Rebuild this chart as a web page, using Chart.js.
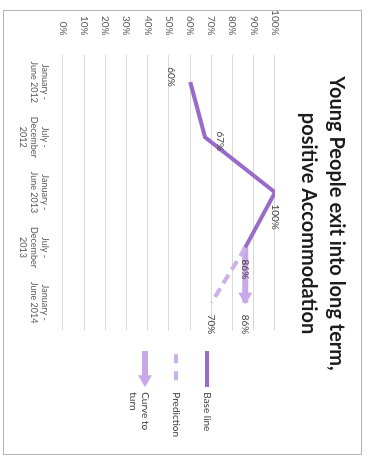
<!DOCTYPE html>
<html>
<head>
<meta charset="utf-8">
<script src="https://cdn.jsdelivr.net/npm/chart.js@4.4.1/dist/chart.umd.min.js"></script>
<style>
  html, body { margin: 0; padding: 0; background: #fff; overflow: hidden; }
  /* the scanned page is turned a quarter clockwise */
  #turn {
    position: absolute; left: 0; top: 0;
    width: 461px; height: 368px;
    transform-origin: 0 0;
    transform: translate(368px, 0) rotate(90deg);
  }
  #frame {
    position: absolute; left: 10px; top: 6px;
    width: 445px; height: 359px;
    box-sizing: border-box;
    border: 1px solid #b5b5b5;
  }
  #chart { position: absolute; left: 0; top: 0; }
</style>
</head>
<body>
<div id="turn">
  <div id="frame"></div>
  <canvas id="chart" width="461" height="368"></canvas>
</div>
<script>
  const TITLE = ['Young People exit into long term,', 'positive Accommodation'];
  const CATEGORIES = [
    ['January -', 'June 2012'],
    ['July -', 'December', '2012'],
    ['January -', 'June 2013'],
    ['July -', 'December', '2013'],
    ['January -', 'June 2014'],
  ];
  const BASE_LINE     = [60, 67, 100, 86, null];
  const PREDICTION    = [null, null, null, 86, 70];
  const CURVE_TO_TURN = [null, null, null, 86, 86];
  const SERIES_NAMES  = ['Base line', 'Prediction', ['Curve to', 'turn']];

  const FONT = 'Lato, "Open Sans", sans-serif';
  const COLORS = {
    base:  '#9a6bc9',
    light: '#cdb2ea',
    arrow: '#c8a8e8',
    grid:  '#d9d9d9',
    tick:  '#595959',
    label: '#404040',
    title: '#1c1c1c',
  };

  // little pictures for the legend keys
  function legendMark(kind) {
    const c = document.createElement('canvas');
    c.width = 36; c.height = 14;
    const g = c.getContext('2d');
    const y = 7;
    if (kind === 'solid') {
      g.strokeStyle = COLORS.base; g.lineWidth = 4;
      g.beginPath(); g.moveTo(0, y); g.lineTo(36, y); g.stroke();
    } else if (kind === 'dash') {
      g.strokeStyle = COLORS.light; g.lineWidth = 4;
      g.setLineDash([9, 8]);
      g.beginPath(); g.moveTo(3, y); g.lineTo(36, y); g.stroke();
    } else {
      g.fillStyle = COLORS.arrow;
      g.fillRect(0, y - 3, 26, 6);
      g.beginPath(); g.moveTo(24, 0); g.lineTo(36, y); g.lineTo(24, 14); g.closePath(); g.fill();
    }
    return c;
  }
  const MARKS = [legendMark('solid'), legendMark('dash'), legendMark('arrow')];

  // arrow tip on the "curve to turn" series
  const arrowHeads = {
    id: 'arrowHeads',
    afterDatasetDraw(chart, args) {
      const ds = chart.data.datasets[args.index];
      if (!ds.arrowHead) return;
      const pts = args.meta.data.filter((p, i) => ds.data[i] != null);
      const end = pts[pts.length - 1];
      const ctx = chart.ctx;
      ctx.save();
      ctx.fillStyle = ds.borderColor;
      ctx.beginPath();
      ctx.moveTo(end.x + 2, end.y);
      ctx.lineTo(end.x - 10, end.y - 7);
      ctx.lineTo(end.x - 10, end.y + 7);
      ctx.closePath();
      ctx.fill();
      ctx.restore();
    }
  };

  // value labels beside the points
  const pointLabels = {
    id: 'pointLabels',
    afterDatasetsDraw(chart) {
      const ctx = chart.ctx;
      ctx.save();
      ctx.font = '10px ' + FONT;
      ctx.fillStyle = COLORS.label;
      ctx.textBaseline = 'middle';
      chart.data.datasets.forEach((ds, i) => {
        const meta = chart.getDatasetMeta(i);
        (ds.labelSpots || []).forEach((spot, j) => {
          if (!spot || ds.data[j] == null) return;
          const p = meta.data[j];
          const txt = ds.data[j] + '%';
          if (spot === 'right') {
            ctx.textAlign = 'left';
            ctx.fillText(txt, p.x + 12, p.y);
          } else if (spot === 'above') {
            ctx.textAlign = 'center';
            ctx.fillText(txt, p.x + 4, p.y - 15);
          } else {
            ctx.textAlign = 'center';
            ctx.fillText(txt, p.x - 5, p.y + 19);
          }
        });
      });
      ctx.restore();
    }
  };

  new Chart(document.getElementById('chart'), {
    type: 'line',
    data: {
      labels: CATEGORIES,
      datasets: [
        {
          label: SERIES_NAMES[0],
          data: BASE_LINE,
          borderColor: COLORS.base,
          borderWidth: 4,
          pointRadius: 0,
          tension: 0,
          labelSpots: ['below', 'above', 'right', 'right', null],
        },
        {
          label: SERIES_NAMES[1],
          data: PREDICTION,
          borderColor: COLORS.light,
          borderWidth: 4,
          borderDash: [10, 6],
          pointRadius: 0,
          tension: 0,
          labelSpots: [null, null, null, null, 'right'],
        },
        {
          label: SERIES_NAMES[2],
          data: CURVE_TO_TURN,
          borderColor: COLORS.arrow,
          borderWidth: 6,
          borderCapStyle: 'butt',
          pointRadius: 0,
          tension: 0,
          arrowHead: true,
          labelSpots: [null, null, null, null, 'right'],
        },
      ],
    },
    options: {
      responsive: false,
      animation: false,
      layout: { padding: { left: 10, right: 24, top: 6, bottom: 10 } },
      plugins: {
        title: {
          display: true,
          text: TITLE,
          color: COLORS.title,
          font: { family: FONT, size: 20, weight: 'bold', lineHeight: 1.4 },
          padding: { top: 12, bottom: 19 },
        },
        legend: {
          position: 'right',
          align: 'center',
          fullSize: false,
          labels: {
            usePointStyle: true,
            pointStyleWidth: 36,
            padding: 21,
            color: COLORS.label,
            font: { family: FONT, size: 10 },
            generateLabels: chart => chart.data.datasets.map((ds, i) => ({
              text: ds.label,
              pointStyle: MARKS[i],
              fillStyle: ds.borderColor,
              strokeStyle: ds.borderColor,
              lineWidth: 0,
              fontColor: COLORS.label,
              datasetIndex: i,
            })),
          },
        },
        tooltip: { enabled: false },
      },
      scales: {
        x: {
          offset: true,
          grid: { display: false },
          border: { display: false },
          ticks: {
            padding: 5,
            maxRotation: 0,
            autoSkip: false,
            color: COLORS.tick,
            font: { family: FONT, size: 9, lineHeight: 1.2 },
          },
          afterFit: s => { s.height = 53; },
        },
        y: {
          min: 0,
          max: 100,
          grid: { color: COLORS.grid, drawTicks: false },
          border: { display: false },
          ticks: {
            stepSize: 10,
            padding: 19,
            color: COLORS.tick,
            font: { family: FONT, size: 10 },
            callback: v => v + '%',
          },
          afterFit: s => { s.width = 44.5; },
        },
      },
    },
    plugins: [arrowHeads, pointLabels],
  });
</script>
</body>
</html>
